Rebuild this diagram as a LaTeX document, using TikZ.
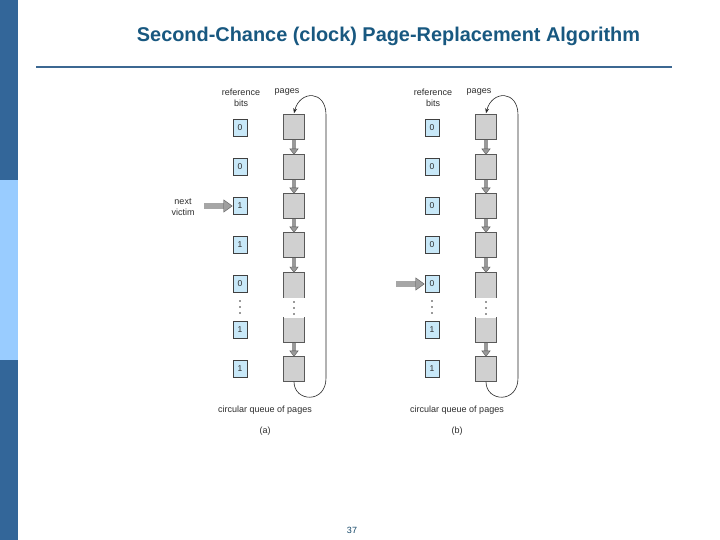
\documentclass[tikz,border=0pt]{standalone}
\usepackage{fontspec}
\setmainfont{Liberation Sans}
\usetikzlibrary{arrows.meta,calc}
\definecolor{barblue}{RGB}{51,102,153}
\definecolor{barlight}{RGB}{153,204,255}
\definecolor{titleblue}{RGB}{24,88,128}
\definecolor{ruleblue}{RGB}{60,104,146}
\definecolor{refblue}{RGB}{200,232,248}
\definecolor{pagegray}{RGB}{208,208,208}
\definecolor{txtgray}{RGB}{45,45,45}
\tikzset{
  refbox/.style={draw=black!75, fill=refblue, minimum width=14pt, minimum height=17pt, inner sep=0pt, font=\fontsize{8.5}{9}\selectfont, text=txtgray},
  pagebox/.style={draw=black!65, fill=pagegray, minimum width=21pt, minimum height=25pt, inner sep=0pt, line width=0.6pt},
  pagefill/.style={fill=pagegray, minimum width=21pt, minimum height=25pt, inner sep=0pt},
  lbl/.style={font=\fontsize{9}{11}\selectfont, text=txtgray, align=center, inner sep=0pt},
  blockarrow/.style={line width=3.6pt, draw=gray!80, -{Triangle[width=9pt,length=6pt,fill=gray!80,color=black!65,line width=0.4pt]}, shorten >=-0.5pt},
  bigarrow/.style={line width=6pt, draw=gray!70, -{Triangle[width=13pt,length=9pt,fill=gray!75,color=black!65,line width=0.4pt]}},
  loopline/.style={draw=black!85, line width=0.6pt},
  dotmark/.style={fill=black!80, draw=none},
}
\newcommand{\clockdiagram}[8]{%
  % #1..#7: reference bits, #8: y of pointer row
  \node[lbl] at (241,97.5) {reference\\bits};
  \node[lbl] at (287,92) {pages};
  \node[refbox] (r1) at (240,128) {#1};
  \node[refbox] (r2) at (240,167) {#2};
  \node[refbox] (r3) at (240,206) {#3};
  \node[refbox] (r4) at (240,245) {#4};
  \node[refbox] (r5) at (240,284) {#5};
  \node[refbox] (r6) at (240,330) {#6};
  \node[refbox] (r7) at (240,369) {#7};
  \node[pagebox] (p1) at (294,127) {};
  \node[pagebox] (p2) at (294,167) {};
  \node[pagebox] (p3) at (294,206) {};
  \node[pagebox] (p4) at (294,245) {};
  \node[pagefill] (p5) at (294,285) {};
  \node[pagefill] (p6) at (294,330) {};
  \node[pagebox] (p7) at (294,369) {};
  \draw[draw=black!65, line width=0.6pt] (p5.south west) -- (p5.north west) -- (p5.north east) -- (p5.south east);
  \draw[draw=black!65, line width=0.6pt] (p6.north west) -- (p6.south west) -- (p6.south east) -- (p6.north east);
  \foreach \yy in {302,308,314} {
    \fill[dotmark] (294,\yy) circle (0.8pt);
    \fill[dotmark] (240,\yy-1) circle (0.8pt);
  }
  \draw[blockarrow] (p1.south) -- (p2.north);
  \draw[blockarrow] (p2.south) -- (p3.north);
  \draw[blockarrow] (p3.south) -- (p4.north);
  \draw[blockarrow] (p4.south) -- (p5.north);
  \draw[blockarrow] (p6.south) -- (p7.north);
  \coordinate (lb) at (326,378);
  \coordinate (lt) at (326,115);
  \draw[loopline, -{Stealth[length=5pt,width=4pt]}] (p7.south) .. controls (294,402) and (326,404) .. (lb) -- (lt) .. controls (326,90) and (300,90) .. ($(p1.north)+(0,-1)$);
  \coordinate (va) at (204,#8);
  \draw[bigarrow] (va) -- (232.5,#8);
  \node[lbl] at (265,410) {circular queue of pages};
}
\begin{document}
\begin{tikzpicture}[x=1pt,y=-1pt]
\path[use as bounding box] (0,0) rectangle (720,540);
\fill[white] (0,0) rectangle (720,540);
\fill[barblue] (0,0) rectangle (18,540);
\fill[barlight] (0,180) rectangle (18,360);
\node[font=\fontsize{19.9}{22}\selectfont\bfseries, text=titleblue, inner sep=0pt, anchor=base] (title) at (388.5,41.5) {Second-Chance (clock) Page-Replacement Algorithm};
\draw[ruleblue, line width=2.6pt] (36,67) -- (672,67);
\begin{scope}
  \clockdiagram{0}{0}{1}{1}{0}{1}{1}{206}
  \node[lbl] at (183,207.5) {next\\victim};
  \node[lbl] at (265,431) {(a)};
\end{scope}
\begin{scope}[xshift=192pt]
  \clockdiagram{0}{0}{0}{0}{0}{1}{1}{284}
  \node[lbl] at (265,431) {(b)};
\end{scope}
\node[font=\fontsize{9}{11}\selectfont, text=titleblue!80!black, inner sep=0pt] (pnum) at (352,530) {37};
\end{tikzpicture}
\end{document}
